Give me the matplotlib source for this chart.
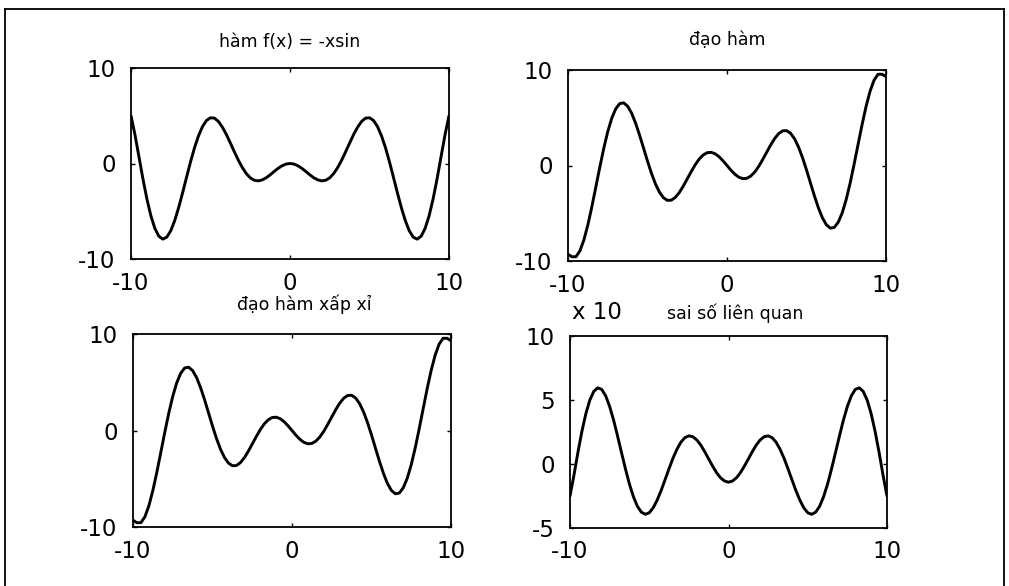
import matplotlib
matplotlib.use("Agg")
import matplotlib.pyplot as plt
from matplotlib.lines import Line2D

plt.rcParams['font.family'] = ['DejaVu Sans']
plt.rcParams['axes.unicode_minus'] = False

# ---- data ----
X = [-10.0, -9.75, -9.5, -9.25, -9.0, -8.75, -8.5, -8.25, -8.0, -7.75,
     -7.5, -7.25, -7.0, -6.75, -6.5, -6.25, -6.0, -5.75, -5.5, -5.25,
     -5.0, -4.75, -4.5, -4.25, -4.0, -3.75, -3.5, -3.25, -3.0, -2.75,
     -2.5, -2.25, -2.0, -1.75, -1.5, -1.25, -1.0, -0.75, -0.5, -0.25,
     0.0,
     0.25, 0.5, 0.75, 1.0, 1.25, 1.5, 1.75, 2.0, 2.25, 2.5,
     2.75, 3.0, 3.25, 3.5, 3.75, 4.0, 4.25, 4.5, 4.75, 5.0,
     5.25, 5.5, 5.75, 6.0, 6.25, 6.5, 6.75, 7.0, 7.25, 7.5,
     7.75, 8.0, 8.25, 8.5, 8.75, 9.0, 9.25, 9.5, 9.75, 10.0]

F_VALUES = [5.0, 3.0, 0.71, -1.61, -3.71, -5.47, -6.79, -7.61, -7.92, -7.71,
            -7.04, -5.97, -4.60, -3.04, -1.40, 0.21, 1.68, 2.92, 3.88, 4.51,
            4.79, 4.75, 4.40, 3.80, 3.03, 2.14, 1.23, 0.35, -0.42, -1.05,
            -1.50, -1.75, -1.82, -1.72, -1.50, -1.19, -0.84, -0.51, -0.24, -0.06,
            0.0,
            -0.06, -0.24, -0.51, -0.84, -1.19, -1.50, -1.72, -1.82, -1.75, -1.50,
            -1.05, -0.42, 0.35, 1.23, 2.14, 3.03, 3.80, 4.40, 4.75, 4.79,
            4.51, 3.88, 2.92, 1.68, 0.21, -1.40, -3.04, -4.60, -5.97, -7.04,
            -7.71, -7.92, -7.61, -6.79, -5.47, -3.71, -1.61, 0.71, 3.0, 5.0]

DERIV_VALUES = [-9.3, -9.56, -9.55, -8.94, -7.79, -6.21, -4.32, -2.26, -0.18, 1.80,
                3.54, 4.94, 5.93, 6.48, 6.56, 6.21, 5.48, 4.44, 3.19, 1.83,
                0.46, -0.82, -1.93, -2.79, -3.37, -3.65, -3.63, -3.34, -2.83, -2.16,
                -1.40, -0.64, 0.08, 0.67, 1.10, 1.34, 1.38, 1.23, 0.92, 0.49,
                0.0,
                -0.49, -0.92, -1.23, -1.38, -1.34, -1.10, -0.67, -0.08, 0.64, 1.40,
                2.16, 2.83, 3.34, 3.63, 3.65, 3.37, 2.79, 1.93, 0.82, -0.46,
                -1.83, -3.19, -4.44, -5.48, -6.21, -6.56, -6.48, -5.93, -4.94, -3.54,
                -1.80, 0.18, 2.26, 4.32, 6.21, 7.79, 8.94, 9.55, 9.56, 9.3]

APPROX_VALUES = [-9.3, -9.56, -9.55, -8.94, -7.79, -6.21, -4.32, -2.26, -0.18, 1.80,
                 3.54, 4.94, 5.93, 6.48, 6.56, 6.21, 5.48, 4.44, 3.19, 1.83,
                 0.46, -0.82, -1.93, -2.79, -3.37, -3.65, -3.63, -3.34, -2.83, -2.16,
                 -1.40, -0.64, 0.08, 0.67, 1.10, 1.34, 1.38, 1.23, 0.92, 0.49,
                 0.0,
                 -0.49, -0.92, -1.23, -1.38, -1.34, -1.10, -0.67, -0.08, 0.64, 1.40,
                 2.16, 2.83, 3.34, 3.63, 3.65, 3.37, 2.79, 1.93, 0.82, -0.46,
                 -1.83, -3.19, -4.44, -5.48, -6.21, -6.56, -6.48, -5.93, -4.94, -3.54,
                 -1.80, 0.18, 2.26, 4.32, 6.21, 7.79, 8.94, 9.55, 9.56, 9.3]

ERROR_VALUES = [-2.5, -0.87, 0.91, 2.54, 3.93, 4.99, 5.67, 5.95, 5.83, 5.33,
                4.50, 3.43, 2.19, 0.89, -0.39, -1.57, -2.55, -3.30, -3.76, -3.93,
                -3.81, -3.42, -2.82, -2.07, -1.22, -0.36, 0.46, 1.16, 1.71, 2.06,
                2.20, 2.13, 1.88, 1.48, 0.96, 0.39, -0.17, -0.68, -1.08, -1.33,
                -1.42,
                -1.33, -1.08, -0.68, -0.17, 0.39, 0.96, 1.48, 1.88, 2.13, 2.20,
                2.06, 1.71, 1.16, 0.46, -0.36, -1.22, -2.07, -2.82, -3.42, -3.81,
                -3.93, -3.76, -3.30, -2.55, -1.57, -0.39, 0.89, 2.19, 3.43, 4.50,
                5.33, 5.83, 5.95, 5.67, 4.99, 3.93, 2.54, 0.91, -0.87, -2.5]

TITLES = ["hàm f(x) = -xsin", "đạo hàm", "đạo hàm xấp xỉ", "sai số liên quan"]
X_TICKS = [-10, 0, 10]
Y_TICKS_A = [-10, 0, 10]
Y_TICKS_B = [-5, 0, 5, 10]
SCALE_LABEL = "x 10"

# ---- figure ----
W, H = 1009, 586
fig = plt.figure(figsize=(W / 100, H / 100), dpi=100)

def px_rect(l, t, r, b):
    return [l / W, 1 - b / H, (r - l) / W, (b - t) / H]

rects = [px_rect(131, 68, 449, 259), px_rect(568, 70, 886, 261),
         px_rect(133, 334, 451, 527), px_rect(570, 336, 887, 528)]
series = [F_VALUES, DERIV_VALUES, APPROX_VALUES, ERROR_VALUES]
ylims = [(-10, 10), (-10, 10), (-10, 10), (-5, 10)]
yticks = [Y_TICKS_A, Y_TICKS_A, Y_TICKS_A, Y_TICKS_B]
title_pos = [(290, 47), (727, 45), (304, 310), (735, 319)]

for i in range(4):
    ax = fig.add_axes(rects[i])
    ax.plot(X, series[i], color='black', lw=2.1, solid_joinstyle='round',
            solid_capstyle='round')
    ax.set_xlim(-10, 10)
    ax.set_ylim(*ylims[i])
    ax.set_xticks(X_TICKS)
    ax.set_yticks(yticks[i])
    ax.tick_params(direction='in', top=True, right=True, length=3,
                   width=1, labelsize=16.5)
    ax.tick_params(axis='y', pad=11)
    ax.tick_params(axis='x', pad=9)
    for s in ax.spines.values():
        s.set_linewidth(1.3)
    tx, ty = title_pos[i]
    fig.text(tx / W, 1 - ty / H, TITLES[i], ha='center', va='baseline',
             fontsize=12.5)

fig.text(572 / W, 1 - 319 / H, SCALE_LABEL, ha='left', va='baseline',
         fontsize=16.5)

# outer frame (left, top, right)
fig.add_artist(Line2D([5 / W, 5 / W], [0, 1 - 9 / H], color='black', lw=1.3))
fig.add_artist(Line2D([5 / W, 1004 / W], [1 - 9 / H, 1 - 9 / H], color='black', lw=1.3))
fig.add_artist(Line2D([1004 / W, 1004 / W], [0, 1 - 9 / H], color='black', lw=1.3))

fig.savefig("out.png", dpi=100)
